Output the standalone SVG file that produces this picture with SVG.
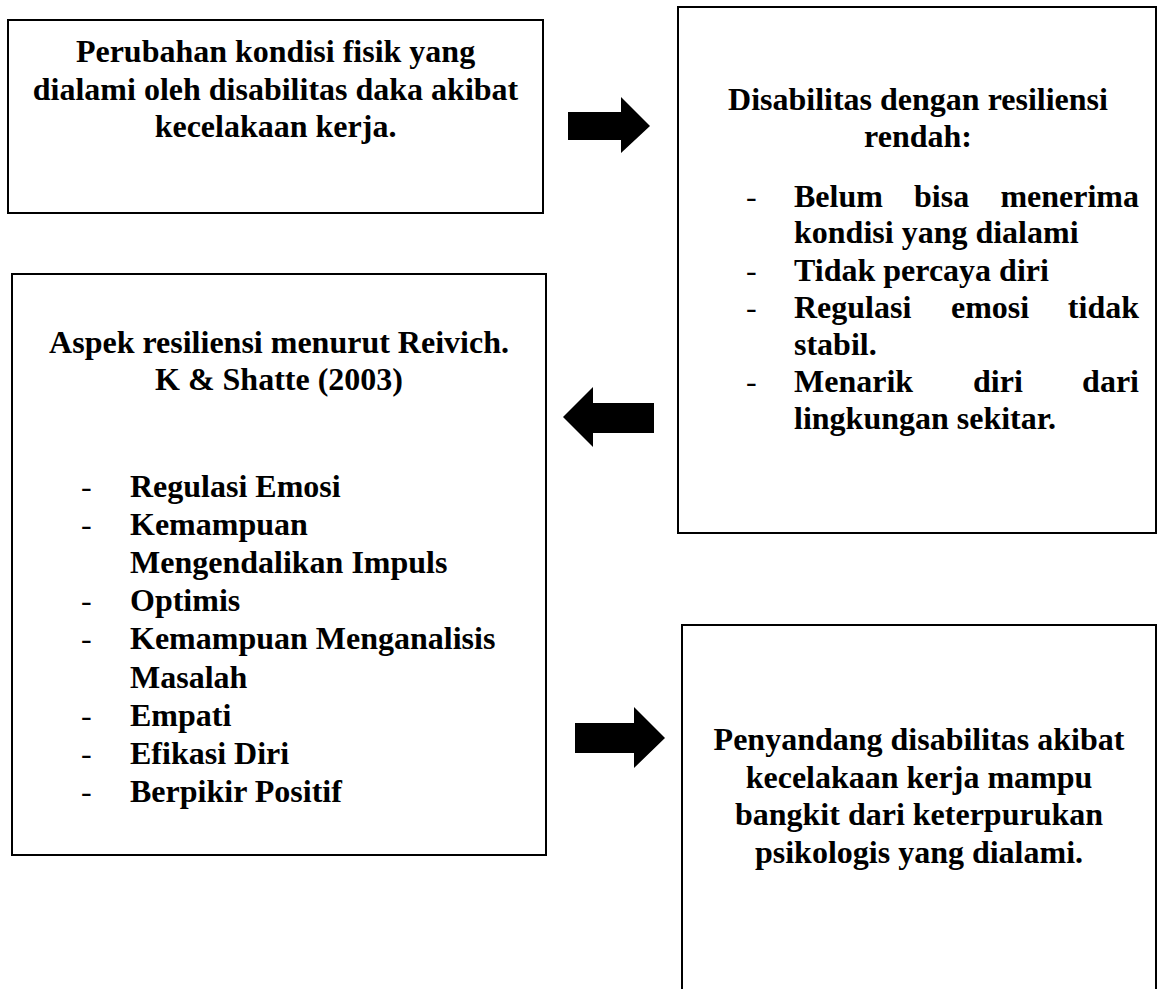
<svg xmlns="http://www.w3.org/2000/svg" width="1158" height="989" viewBox="0 0 1158 989">
<style>
.box{fill:#fff;stroke:#000;stroke-width:2}
.t{font-family:"Liberation Serif","Times New Roman",serif;font-size:32px;font-weight:bold;fill:#000}
.c{text-anchor:middle}
.e{text-anchor:end}
.d{font-family:"Liberation Serif","Times New Roman",serif;font-size:32px;fill:#000}
.arr{fill:#000}
</style>
<rect width="1158" height="989" fill="#fff"/>
<g id="node-perubahan">
<rect class="box" x="8" y="20" width="535" height="193"/>
<text class="t c" x="275.5" y="62">Perubahan kondisi fisik yang</text>
<text class="t c" x="275.5" y="100">dialami oleh disabilitas daka akibat</text>
<text class="t c" x="275.5" y="137">kecelakaan kerja.</text>
</g>
<g id="node-resiliensi-rendah">
<rect class="box" x="678" y="7" width="478" height="526"/>
<text class="t c" x="918" y="110">Disabilitas dengan resiliensi</text>
<text class="t c" x="918" y="147">rendah:</text>
<text class="d" x="746" y="207">-</text>
<text class="t" x="794" y="207">Belum</text>
<text class="t" x="914" y="207">bisa</text>
<text class="t e" x="1139" y="207">menerima</text>
<text class="t" x="794" y="243">kondisi yang dialami</text>
<text class="d" x="746" y="281">-</text>
<text class="t" x="794" y="281">Tidak percaya diri</text>
<text class="d" x="746" y="318">-</text>
<text class="t" x="794" y="318">Regulasi</text>
<text class="t" x="951" y="318">emosi</text>
<text class="t e" x="1139" y="318">tidak</text>
<text class="t" x="794" y="355">stabil.</text>
<text class="d" x="746" y="392">-</text>
<text class="t" x="794" y="392">Menarik</text>
<text class="t" x="973" y="392">diri</text>
<text class="t e" x="1139" y="392">dari</text>
<text class="t" x="794" y="429">lingkungan sekitar.</text>
</g>
<g id="node-aspek">
<rect class="box" x="12" y="274" width="534" height="581"/>
<text class="t c" x="279" y="353">Aspek resiliensi menurut Reivich.</text>
<text class="t c" x="279" y="390">K &amp; Shatte (2003)</text>
<text class="d" x="81" y="497">-</text>
<text class="t" x="130" y="497">Regulasi Emosi</text>
<text class="d" x="81" y="535">-</text>
<text class="t" x="130" y="535">Kemampuan</text>
<text class="t" x="130" y="573">Mengendalikan Impuls</text>
<text class="d" x="81" y="611">-</text>
<text class="t" x="130" y="611">Optimis</text>
<text class="d" x="81" y="649">-</text>
<text class="t" x="130" y="649">Kemampuan Menganalisis</text>
<text class="t" x="130" y="688">Masalah</text>
<text class="d" x="81" y="726">-</text>
<text class="t" x="130" y="726">Empati</text>
<text class="d" x="81" y="764">-</text>
<text class="t" x="130" y="764">Efikasi Diri</text>
<text class="d" x="81" y="802">-</text>
<text class="t" x="130" y="802">Berpikir Positif</text>
</g>
<g id="node-bangkit">
<rect class="box" x="682" y="625" width="474" height="380"/>
<text class="t c" x="919" y="750">Penyandang disabilitas akibat</text>
<text class="t c" x="919" y="788">kecelakaan kerja mampu</text>
<text class="t c" x="919" y="825">bangkit dari keterpurukan</text>
<text class="t c" x="919" y="863">psikologis yang dialami.</text>
</g>
<g id="connectors">
<polygon class="arr" points="568,112 621,112 621,97 650,126 621,153 621,140 568,140"/>
<polygon class="arr" points="654,403 593,403 593,387 563,417 593,447 593,433 654,433"/>
<polygon class="arr" points="575,723 634,723 634,707 665,738 634,768 634,753 575,753"/>
</g>
</svg>
